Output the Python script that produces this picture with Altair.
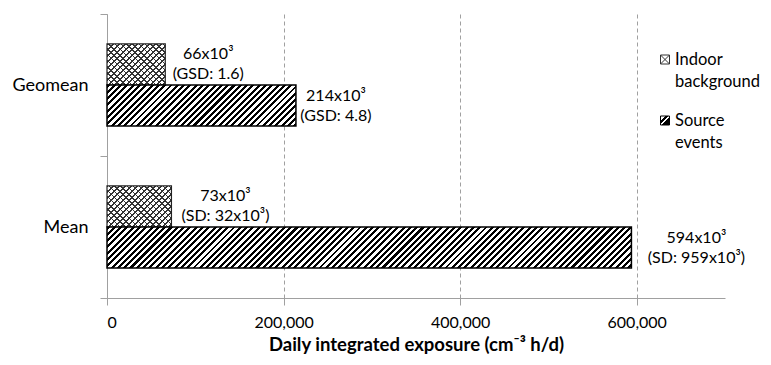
import altair as alt
import pandas as pd

# ---- data ----
stats = ["Geomean", "Mean"]
series = ["Indoor background", "Source events"]
indoor_values = [66000, 73000]
source_values = [214000, 594000]
indoor_labels = ["66x10³\n(GSD: 1.6)", "73x10³\n(SD: 32x10³)"]
source_labels = ["214x10³\n(GSD: 4.8)", "594x10³\n(SD: 959x10³)"]
x_ticks = [0, 200000, 400000, 600000]
x_max = 700000
legend_text = ["Indoor\nbackground", "Source\nevents"]

rows = []
for i, s in enumerate(stats):
    rows.append({"stat": s, "series": series[0], "value": indoor_values[i], "label": indoor_labels[i]})
    rows.append({"stat": s, "series": series[1], "value": source_values[i], "label": source_labels[i]})
df = pd.DataFrame(rows)
df["idx"] = range(len(df))

# ---- layout / style ----
PW, PH = 618, 284
BAR_H = (PH / 2) / (2 + 2 * 0.73)
GREY = "#a0a0a0"
FONT = "Lato"


def stripes(W, H, period, on_w, on_color, off_color, direction):
    """Linear gradient that imitates a diagonal hatch pattern on a W x H box."""
    L = W + H
    s = (W + H) * W / (W * W + H * H)
    if direction == "/":
        x1, y1, x2, y2 = 0, 0, s, s * H / W
    else:
        x1, y1, x2, y2 = 0, 1, s, 1 - s * H / W
    stops = []
    d = 0.0
    while d < L:
        a = d / L
        b = min((d + on_w) / L, 1)
        c = min((d + period) / L, 1)
        stops += [
            {"offset": round(a, 5), "color": on_color},
            {"offset": round(b, 5), "color": on_color},
            {"offset": round(b, 5), "color": off_color},
            {"offset": round(c, 5), "color": off_color},
        ]
        d += period
    return {"gradient": "linear", "x1": x1, "y1": y1, "x2": x2, "y2": y2, "stops": stops}


base = alt.Chart(df)

x_enc = alt.X(
    "value:Q",
    scale=alt.Scale(domain=[0, x_max], nice=False, zero=True),
    axis=alt.Axis(
        values=x_ticks,
        format=",d",
        grid=True,
        gridDash=[4, 3],
        gridColor=GREY,
        gridWidth=1,
        domainColor=GREY,
        tickColor=GREY,
        tickSize=7,
        labelPadding=9,
        labelFontSize=16,
        labelFont=FONT,
        labelColor="#000",
        title="Daily integrated exposure (cm⁻³ h/d)",
        titleFont=FONT,
        titleFontSize=18.5,
        titleFontWeight="bold",
        titleColor="#000",
        titlePadding=5,
    ),
)
y_enc = alt.Y(
    "stat:N",
    scale=alt.Scale(domain=stats, paddingInner=0, paddingOuter=0),
    axis=alt.Axis(
        title=None,
        tickBand="extent",
        tickSize=7,
        labelPadding=12,
        domainColor=GREY,
        tickColor=GREY,
        labelFontSize=18,
        labelFont=FONT,
        labelColor="#000",
        grid=False,
    ),
)
yoff_enc = alt.YOffset(
    "series:N", scale=alt.Scale(domain=series, paddingInner=0, paddingOuter=0.73)
)

layers = []
for _, r in df.iterrows():
    W = r["value"] / x_max * PW
    sel = base.transform_filter(alt.datum.idx == int(r["idx"]))
    if r["series"] == series[0]:
        g1 = stripes(W, BAR_H, 6.0, 1.2, "#333333", "#ffffff", "/")
        g2 = stripes(W, BAR_H, 6.0, 1.2, "#333333", "transparent", "\\")
        layers.append(sel.mark_bar(fill=g1, strokeWidth=0).encode(x=x_enc, y=y_enc, yOffset=yoff_enc))
        layers.append(
            sel.mark_bar(fill=g2, stroke="#222222", strokeWidth=1.2).encode(
                x=x_enc, y=y_enc, yOffset=yoff_enc
            )
        )
    else:
        g = stripes(W, BAR_H, 6.3, 3.0, "#000000", "#ffffff", "/")
        layers.append(
            sel.mark_bar(fill=g, stroke="#000000", strokeWidth=1.5).encode(
                x=x_enc, y=y_enc, yOffset=yoff_enc
            )
        )

# value labels
label_dx = [43, 40, 54, 65]
for i, r in df.iterrows():
    sel = base.transform_filter(alt.datum.idx == int(r["idx"]))
    layers.append(
        sel.mark_text(
            align="center",
            baseline="middle",
            lineBreak="\n",
            lineHeight=20,
            fontSize=16,
            font=FONT,
            color="#000",
            dx=label_dx[i],
            dy=-10,
        ).encode(x=x_enc, y=y_enc, yOffset=yoff_enc, text="label:N")
    )

# legend (drawn inside the plot, upper right)
leg_df = pd.DataFrame({"text": legend_text, "series": series})
leg = alt.Chart(leg_df)
icon_y = [45.5, 106.5]
text_y = [46, 107]
icon_x = 558
text_x = 568
layers.append(
    leg.transform_filter(alt.datum.series == series[0])
    .mark_point(
        shape="M-1,-1H1V1H-1Z M-1,-1L1,1 M1,-1L-1,1",
        size=81,
        filled=False,
        fill="#ffffff",
        stroke="#333333",
        strokeWidth=1,
        opacity=1,
    )
    .encode(x=alt.value(icon_x), y=alt.value(icon_y[0]))
)
icon_grad = {
    "gradient": "linear",
    "x1": 0, "y1": 0, "x2": 1, "y2": 1,
    "stops": [
        {"offset": 0, "color": "#ffffff"},
        {"offset": 0.3, "color": "#ffffff"},
        {"offset": 0.3, "color": "#000000"},
        {"offset": 0.45, "color": "#000000"},
        {"offset": 0.45, "color": "#ffffff"},
        {"offset": 0.55, "color": "#ffffff"},
        {"offset": 0.55, "color": "#000000"},
        {"offset": 1, "color": "#000000"},
    ],
}
layers.append(
    leg.transform_filter(alt.datum.series == series[1])
    .mark_point(shape="square", size=81, filled=True, fill=icon_grad, stroke="#000000", strokeWidth=1, opacity=1)
    .encode(x=alt.value(icon_x), y=alt.value(icon_y[1]))
)
for k, s in enumerate(series):
    layers.append(
        leg.transform_filter(alt.datum.series == s)
        .mark_text(
            align="left",
            baseline="middle",
            lineBreak="\n",
            lineHeight=22,
            fontSize=16.5,
            font=FONT,
            color="#000",
        )
        .encode(x=alt.value(text_x), y=alt.value(text_y[k]), text="text:N")
    )

chart = (
    alt.layer(*layers)
    .properties(
        width=PW,
        height=PH,
        padding={"left": 99, "top": 6, "right": 38, "bottom": 59},
        autosize=alt.AutoSizeParams(type="none"),
    )
    .configure_view(stroke=None)
)

chart.save("out.html", embed_options={"renderer": "svg", "actions": False})
